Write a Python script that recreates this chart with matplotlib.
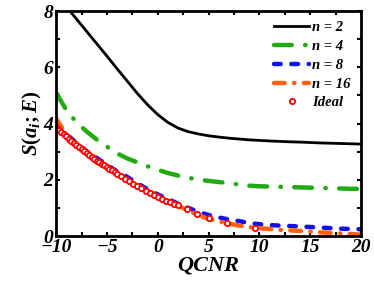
import numpy as np
import matplotlib
matplotlib.use("Agg")
import matplotlib.pyplot as plt
from matplotlib.ticker import MultipleLocator

plt.rcParams['font.family'] = 'Liberation Serif'
plt.rcParams['mathtext.fontset'] = 'custom'
plt.rcParams['mathtext.it'] = 'Liberation Serif:italic:bold'
plt.rcParams['mathtext.rm'] = 'Liberation Serif:bold'
plt.rcParams['mathtext.bf'] = 'Liberation Serif:italic:bold'

# QCNR grid of the quantized curves
x = [-10, -9, -8, -7, -6, -5, -4, -3, -2, -1, 0, 1, 2, 3, 4, 5, 6, 7, 8, 9,
     10, 11, 12, 13, 14, 15, 16, 17, 18, 19, 20]
n2 = [8.6, 8.16, 7.72, 7.28, 6.84, 6.40, 5.95, 5.51, 5.07, 4.67, 4.32, 4.04,
      3.84, 3.71, 3.63, 3.565, 3.52, 3.48, 3.45, 3.42, 3.40, 3.38, 3.365, 3.35,
      3.34, 3.325, 3.31, 3.30, 3.29, 3.28, 3.27]
n4 = [5.1, 4.48, 4.05, 3.72, 3.43, 3.18, 2.94, 2.76, 2.62, 2.48, 2.36, 2.24,
      2.15, 2.07, 2.01, 1.96, 1.92, 1.88, 1.83, 1.79, 1.77, 1.76, 1.75, 1.74,
      1.73, 1.72, 1.71, 1.70, 1.69, 1.68, 1.68]
n8 = [3.95, 3.62, 3.32, 3.02, 2.78, 2.53, 2.3, 2.1, 1.88, 1.66, 1.48, 1.32,
      1.15, 1.0, 0.86, 0.75, 0.66, 0.59, 0.53, 0.46, 0.42, 0.39, 0.37, 0.355,
      0.34, 0.32, 0.30, 0.28, 0.26, 0.25, 0.24]
n16 = [4.18, 3.62, 3.28, 2.98, 2.72, 2.47, 2.24, 2.02, 1.82, 1.62, 1.43, 1.25,
       1.08, 0.9, 0.74, 0.61, 0.52, 0.44, 0.37, 0.32, 0.28, 0.25, 0.22, 0.20,
       0.18, 0.16, 0.13, 0.11, 0.09, 0.07, 0.05]

# ideal (unquantized) points
x_ideal = [-10, -9.75, -9.5, -9.25, -9.0, -8.75, -8.5, -8.25, -8.0, -7.75,
           -7.5, -7.25, -7.0, -6.75, -6.5, -6.25, -6.0, -5.75, -5.5, -5.25,
           -5.0, -4.75, -4.5, -4.25, -4.0, -3.6, -3.2, -2.8, -2.4, -2.0, -1.6,
           -1.2, -0.8, -0.4, 0, 0.4, 0.8, 1.2, 1.6, 2.0, 2.9, 3.9, 5.05, 6.8, 9.6]
ideal = [3.87, 3.78, 3.70, 3.62, 3.54, 3.46, 3.39, 3.31, 3.23, 3.16,
         3.08, 3.01, 2.94, 2.87, 2.81, 2.75, 2.68, 2.63, 2.57, 2.51,
         2.45, 2.39, 2.33, 2.27, 2.21, 2.12, 2.03, 1.94, 1.86, 1.77, 1.69,
         1.61, 1.53, 1.46, 1.39, 1.32, 1.26, 1.20, 1.14, 1.09, 0.95, 0.79,
         0.64, 0.46, 0.28]

fig = plt.figure(figsize=(3.74, 2.84), dpi=100)
ax = fig.add_axes([0.150, 0.169, 0.815, 0.792])

ax.plot(x, n2, color='black', lw=2.0, label='n = 2')
ax.plot(x, n4, color='#22aa11', lw=3.2, dashes=(4, 3, 0.1, 3), dash_capstyle='round',
        label='n = 4')
ax.plot(x, n8, color='#1010ee', lw=3.2, dashes=(1.5, 2.4), dash_capstyle='round',
        label='n = 8')
ax.plot(x, n16, color='#ff6010', lw=3.2, dashes=(2.4, 2.1, 0.1, 2.1), dash_capstyle='round',
        label='n = 16')
ax.plot(x_ideal, ideal, 'o', color='red', mfc='white', mew=1.3, ms=3.8,
        label='Ideal')

ax.set_xlim(-10, 20)
ax.set_ylim(0, 8)
ax.xaxis.set_major_locator(MultipleLocator(5))
ax.xaxis.set_minor_locator(MultipleLocator(2.5))
ax.yaxis.set_major_locator(MultipleLocator(2))
ax.yaxis.set_minor_locator(MultipleLocator(1))
ax.tick_params(which='both', direction='in', top=True, right=True, width=1.5,
               length=3, labelsize=14, pad=2)
for lab in ax.get_xticklabels() + ax.get_yticklabels():
    lab.set_fontweight('bold')
    lab.set_fontstyle('italic')
for sp in ax.spines.values():
    sp.set_linewidth(2.0)

ax.set_xlabel('QCNR', fontsize=16, fontweight='bold', fontstyle='italic', labelpad=0)
ax.set_ylabel(r'$S(a_i;E)$', fontsize=15, labelpad=0)

leg = ax.legend(loc='upper right', frameon=False, handlelength=2.4,
                handletextpad=0.2, labelspacing=0.38, borderaxespad=0.3,
                numpoints=1, prop={'weight': 'bold', 'style': 'italic', 'size': 10.5})

fig.savefig('out.png', dpi=100)
